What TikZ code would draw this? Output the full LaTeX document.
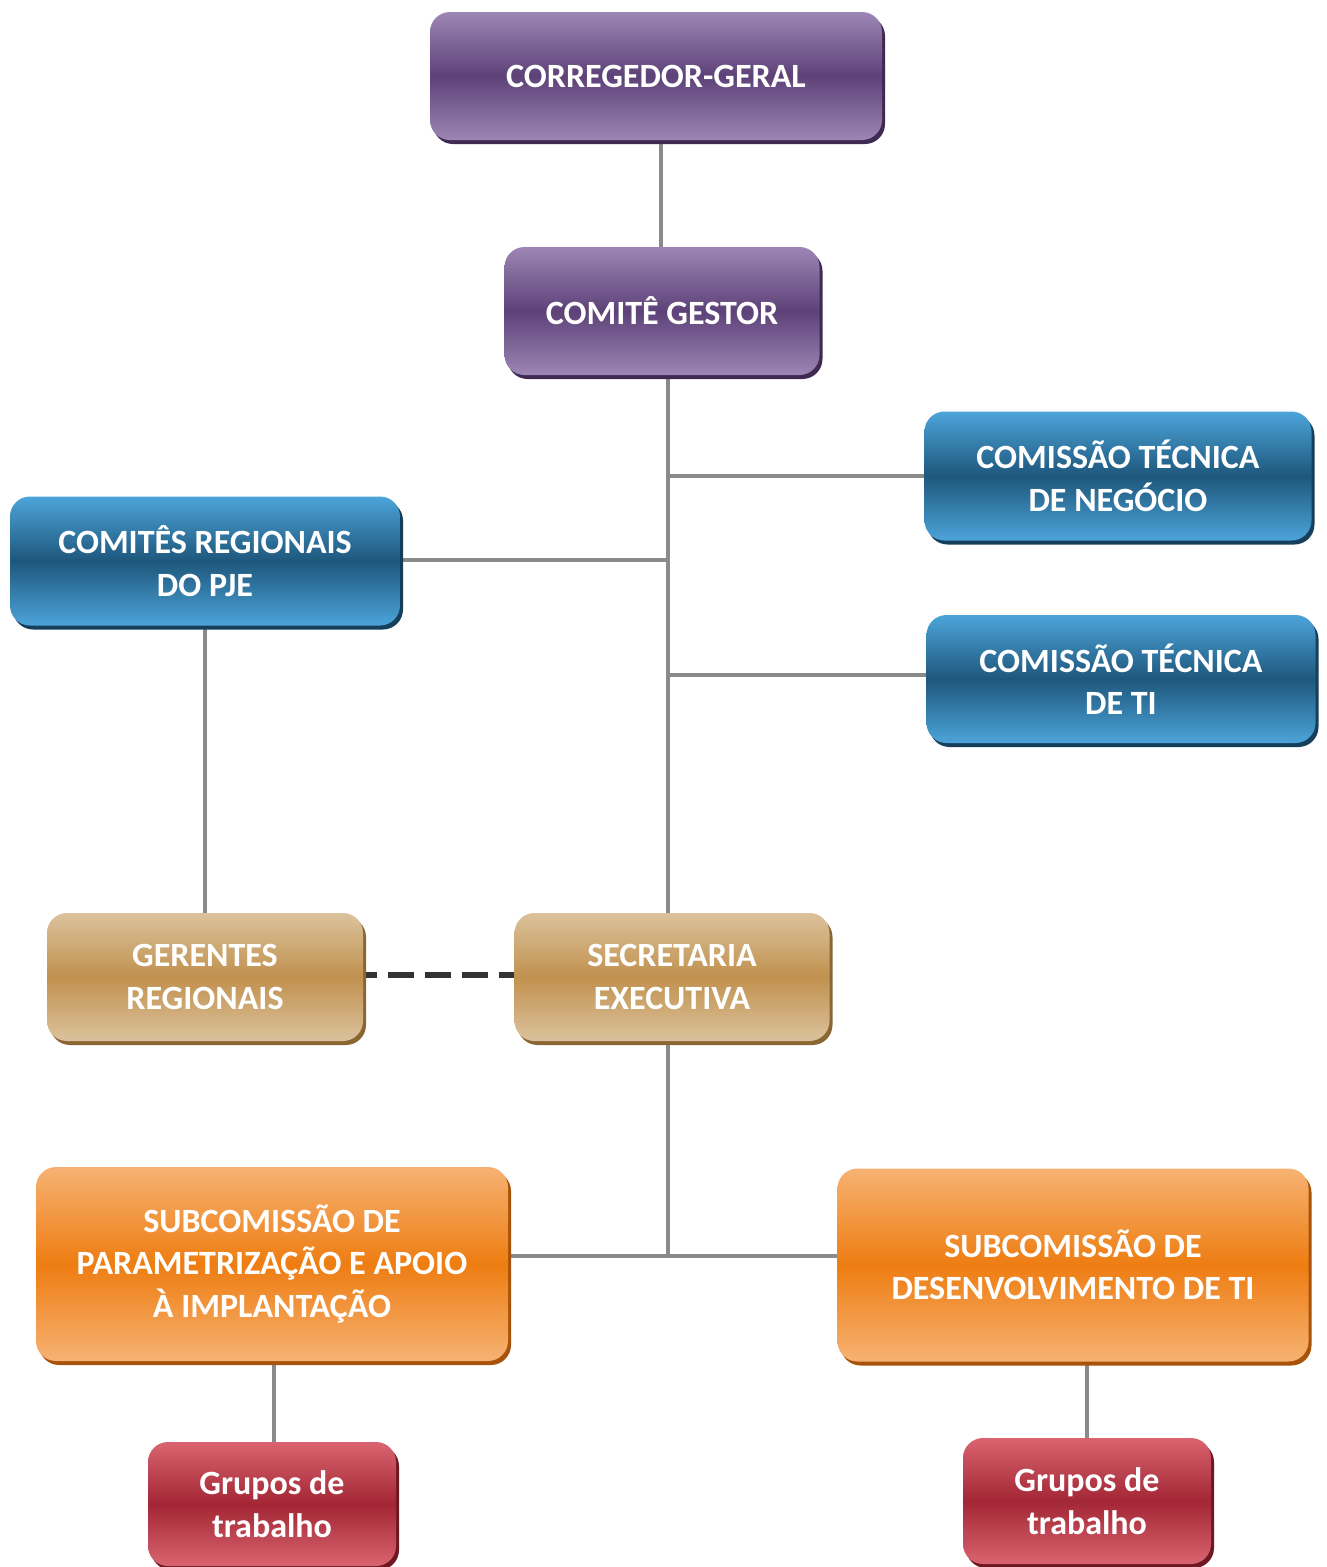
\documentclass[tikz,border=0pt]{standalone}
\usepackage{fontspec}
\setmainfont{Carlito}
\usetikzlibrary{shadows,backgrounds}

% palette: light edge / dark middle / shadow
\definecolor{purL}{HTML}{9D86B6}\definecolor{purD}{HTML}{5D4277}\definecolor{purS}{HTML}{3E2A52}
\definecolor{bluL}{HTML}{4CA4DA}\definecolor{bluD}{HTML}{1E577C}\definecolor{bluS}{HTML}{163F5C}
\definecolor{tanL}{HTML}{DBC29C}\definecolor{tanD}{HTML}{C1914F}\definecolor{tanS}{HTML}{8A6632}
\definecolor{orgL}{HTML}{F6B273}\definecolor{orgD}{HTML}{EE7D12}\definecolor{orgS}{HTML}{A8520A}
\definecolor{redL}{HTML}{D9646F}\definecolor{redD}{HTML}{A32635}\definecolor{redS}{HTML}{6E1822}
\definecolor{linkgray}{HTML}{8A8A8A}
\definecolor{dashgray}{HTML}{333333}

\tikzset{
  box/.style={rectangle, rounded corners=20pt, align=center, text=white,
    font=\bfseries\fontsize{34}{42.5}\selectfont, inner sep=0pt},
  boxcol/.style={top color=#1L, bottom color=#1L, middle color=#1D,
    drop shadow={shadow xshift=3pt, shadow yshift=-4pt, fill=#1S, opacity=1}},
  link/.style={draw=linkgray, line width=4pt},
  dlink/.style={draw=dashgray, line width=5.5pt, dash pattern=on 26pt off 11pt, dash phase=12pt},
}

\begin{document}
\begin{tikzpicture}[x=1pt, y=-1pt]
\useasboundingbox (0,0) rectangle (1327,1567);

% organisation boxes
\node[box, boxcol=pur, minimum width=452pt, minimum height=128pt] (cgeral) at (656,76) {CORREGEDOR-GERAL};
\node[box, boxcol=pur, minimum width=315pt, minimum height=128pt] (gestor) at (662,311) {COMITÊ GESTOR};
\node[box, boxcol=blu, minimum width=387pt, minimum height=129pt] (negocio) at (1118,476) {COMISSÃO TÉCNICA\\DE NEGÓCIO};
\node[box, boxcol=blu, minimum width=390pt, minimum height=129pt] (regionais) at (205,561) {COMITÊS REGIONAIS\\DO PJE};
\node[box, boxcol=blu, minimum width=389pt, minimum height=128pt] (ti) at (1121,679) {COMISSÃO TÉCNICA\\DE TI};
\node[box, boxcol=tan, minimum width=316pt, minimum height=128pt] (gerentes) at (205,977) {GERENTES\\REGIONAIS};
\node[box, boxcol=tan, minimum width=315pt, minimum height=128pt] (secretaria) at (672,977) {SECRETARIA\\EXECUTIVA};
\node[box, boxcol=org, minimum width=472pt, minimum height=194pt] (param) at (272,1264) {SUBCOMISSÃO DE\\PARAMETRIZAÇÃO E APOIO\\À IMPLANTAÇÃO};
\node[box, boxcol=org, minimum width=471pt, minimum height=193pt] (desenv) at (1073,1265) {SUBCOMISSÃO DE\\DESENVOLVIMENTO DE TI};
\node[box, boxcol=red, minimum width=248pt, minimum height=124pt] (gtA) at (272,1504) {Grupos de\\trabalho};
\node[box, boxcol=red, minimum width=248pt, minimum height=126pt] (gtB) at (1087,1501) {Grupos de\\trabalho};

% junctions on the central trunk
\coordinate (tTop) at (661,0);
\coordinate (tNeg) at (668,476);
\coordinate (tReg) at (668,560);
\coordinate (tTi)  at (668,675);
\coordinate (tSub) at (668,1256);

\begin{scope}[on background layer]
  \draw[link] (cgeral.south -| tTop) -- (gestor.north -| tTop);
  \draw[link] (gestor.south -| tNeg) -- (secretaria.north -| tNeg);
  \draw[link] (tNeg) -- (negocio.west |- tNeg);
  \draw[link] (tReg) -- (regionais.east |- tReg);
  \draw[link] (tTi) -- (ti.west |- tTi);
  \draw[link] (regionais.south) -- (gerentes.north);
  \draw[dlink] (gerentes.east |- 0,975) -- (secretaria.west |- 0,975);
  \draw[link] (secretaria.south -| tSub) -- (tSub);
  \draw[link] (param.east |- tSub) -- (desenv.west |- tSub);
  \draw[link] (param.south -| 274,0) -- (gtA.north -| 274,0);
  \draw[link] (desenv.south -| gtB) -- (gtB.north);
\end{scope}
\end{tikzpicture}
\end{document}
